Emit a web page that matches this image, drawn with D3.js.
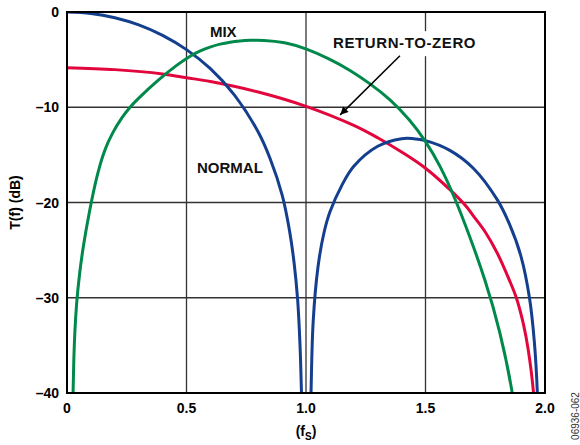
<!DOCTYPE html>
<html>
<head>
<meta charset="utf-8">
<script src="https://cdn.jsdelivr.net/npm/d3@7"></script>
<style>
  body { margin: 0; background: #fff; }
  svg { display: block; font-family: "Liberation Sans", Arial, sans-serif; }
</style>
</head>
<body>
<div id="chart"></div>
<script>
// values: [f / fS, T(f) in dB]
const normalMain = [[0, 0], [0.1, -0.15], [0.2, -0.6], [0.3, -1.35], [0.4, -2.45], [0.5, -3.95],
  [0.6, -5.95], [0.7, -8.7], [0.8, -12.6], [0.85, -15.4], [0.9, -19.2], [0.93, -22.8],
  [0.95, -26.3], [0.965, -30.2], [0.975, -35], [0.981, -40], [0.985, -45]];
const normalSide = [[1.017, -45], [1.021, -40], [1.03, -32.5], [1.05, -26.8], [1.075, -23.2],
  [1.1, -21], [1.15, -18.2], [1.2, -16.2], [1.3, -14.1], [1.4, -13.3], [1.45, -13.3],
  [1.5, -13.5], [1.6, -14.5], [1.7, -16.4], [1.8, -19.7], [1.85, -22.2], [1.9, -25.7],
  [1.935, -30], [1.955, -34.5], [1.968, -40], [1.972, -45]];
const returnToZero = [[0, -5.85], [0.2, -6.05], [0.4, -6.5], [0.5, -6.9], [0.6, -7.3], [0.8, -8.4],
  [1.0, -9.9], [1.2, -11.9], [1.3, -13.2], [1.4, -14.7], [1.5, -16.4], [1.6, -18.6],
  [1.67, -20.4], [1.7, -21.4], [1.75, -23.1], [1.8, -25.3], [1.85, -28.1], [1.88, -30],
  [1.91, -32.8], [1.93, -35.5], [1.952, -40], [1.958, -43]];
const mix = [[0.023, -43.88], [0.0251, -40], [0.028, -36.85], [0.0322, -33.7], [0.0397, -30.55],
  [0.0523, -27.4], [0.0699, -24.25], [0.0925, -21.1], [0.118, -17.95], [0.1402, -15.85],
  [0.1573, -14.49], [0.1891, -12.7], [0.231, -11.02], [0.264, -9.97], [0.2908, -9.24],
  [0.3808, -7.14], [0.4644, -5.46], [0.523, -4.51], [0.5565, -4.09], [0.5983, -3.67],
  [0.6402, -3.36], [0.682, -3.15], [0.7238, -3.03], [0.7657, -2.97], [0.8159, -2.94],
  [0.9121, -3.15], [1.0, -3.83], [1.1004, -4.93], [1.1841, -6.09], [1.2678, -7.51],
  [1.3515, -9.13], [1.4351, -11.34], [1.4979, -13.44], [1.5607, -16.06], [1.6234, -19.53],
  [1.6862, -23.62], [1.749, -28.03], [1.8117, -33.39], [1.8661, -40], [1.883, -43.9]];

const xTicks = [0, 0.5, 1.0, 1.5, 2.0];
const yTicks = [0, -10, -20, -30, -40];

const svgWidth = 580;
const svgHeight = 445;
const margin = { top: 12, left: 67, right: 35, bottom: 52 };
const width = svgWidth - margin.left - margin.right;
const height = svgHeight - margin.top - margin.bottom;

const svg = d3.select("#chart").append("svg")
  .attr("width", svgWidth)
  .attr("height", svgHeight);

const g = svg.append("g").attr("transform", `translate(${margin.left},${margin.top})`);

const x = d3.scaleLinear().domain([0, 2]).range([0, width]);
const y = d3.scaleLinear().domain([-40, 0]).range([height, 0]);

svg.append("defs").append("clipPath").attr("id", "plot")
  .append("rect").attr("width", width).attr("height", height);

// grid
g.append("g").selectAll("line").data(xTicks.slice(1, -1)).join("line")
  .attr("x1", d => x(d)).attr("x2", d => x(d))
  .attr("y1", 0).attr("y2", height)
  .attr("stroke", "#333").attr("stroke-width", 1.3);
g.append("g").selectAll("line").data(yTicks.slice(1, -1)).join("line")
  .attr("x1", 0).attr("x2", width)
  .attr("y1", d => y(d)).attr("y2", d => y(d))
  .attr("stroke", "#333").attr("stroke-width", 1.3);

// curves
const line = d3.line()
  .x(d => x(d[0]))
  .y(d => y(d[1]))
  .curve(d3.curveCatmullRom.alpha(0.5));
const smoothLine = d3.line()
  .x(d => x(d[0]))
  .y(d => y(d[1]))
  .curve(d3.curveBasis);

const curves = g.append("g").attr("clip-path", "url(#plot)");
const series = [
  { data: returnToZero, color: "#e2063d", gen: line },
  { data: normalMain, color: "#143e8e", gen: line },
  { data: normalSide, color: "#143e8e", gen: line },
  { data: mix, color: "#00894b", gen: smoothLine }
];
curves.selectAll("path").data(series).join("path")
  .attr("d", d => d.gen(d.data))
  .attr("fill", "none")
  .attr("stroke", d => d.color)
  .attr("stroke-width", 3);

// frame
g.append("rect")
  .attr("width", width).attr("height", height)
  .attr("fill", "none").attr("stroke", "#000").attr("stroke-width", 2);

// tick labels
g.append("g").selectAll("text").data(yTicks).join("text")
  .attr("x", -8).attr("y", d => y(d) + 5)
  .attr("text-anchor", "end")
  .style("font-size", "14px").style("font-weight", "bold")
  .text(d => d === 0 ? "0" : "\u2013" + Math.abs(d));
g.append("g").selectAll("text").data(xTicks).join("text")
  .attr("x", d => x(d)).attr("y", height + 20)
  .attr("text-anchor", "middle")
  .style("font-size", "14px").style("font-weight", "bold")
  .text(d => d === 0 ? "0" : d.toFixed(1));

// axis titles
const xTitle = g.append("text")
  .attr("x", x(1)).attr("y", height + 43)
  .attr("text-anchor", "middle")
  .style("font-size", "14px").style("font-weight", "bold");
xTitle.append("tspan").text("(f");
xTitle.append("tspan").attr("dy", 4).style("font-size", "10px").text("S");
xTitle.append("tspan").attr("dy", -4).text(")");

g.append("text")
  .attr("transform", `translate(-47,${height / 2}) rotate(-90)`)
  .attr("text-anchor", "middle")
  .style("font-size", "14px").style("font-weight", "bold")
  .text("T(f) (dB)");

// curve labels
const labelStyle = sel => sel.style("font-size", "15px").style("font-weight", "bold").attr("fill", "#111");

g.append("text").attr("x", x(0.598)).attr("y", y(-2.62)).call(labelStyle).text("MIX");
g.append("text").attr("x", x(0.544)).attr("y", y(-16.9)).call(labelStyle).text("NORMAL");

const rtzBg = g.append("rect").attr("fill", "#fff");
const rtz = g.append("text").attr("x", x(1.113)).attr("y", y(-3.8)).call(labelStyle)
  .style("letter-spacing", "0.6px").text("RETURN-TO-ZERO");
const bb = rtz.node().getBBox();
rtzBg.attr("x", bb.x - 3).attr("y", bb.y - 3).attr("width", bb.width + 6).attr("height", bb.height + 8);

// arrow
svg.select("defs").append("marker")
  .attr("id", "arrow")
  .attr("viewBox", "0 0 10 10")
  .attr("refX", 10).attr("refY", 5)
  .attr("markerWidth", 12).attr("markerHeight", 8)
  .attr("markerUnits", "userSpaceOnUse")
  .attr("orient", "auto")
  .append("path").attr("d", "M0,0L10,5L0,10Z").attr("fill", "#000");

g.append("line")
  .attr("x1", x(1.393)).attr("y1", y(-4.6))
  .attr("x2", x(1.143)).attr("y2", y(-10.8))
  .attr("stroke", "#000").attr("stroke-width", 1.5)
  .attr("marker-end", "url(#arrow)");

// figure id
svg.append("text")
  .attr("transform", "translate(579,416) rotate(-90)")
  .attr("text-anchor", "middle")
  .style("font-size", "10px")
  .attr("fill", "#333")
  .text("06936-062");
</script>
</body>
</html>
